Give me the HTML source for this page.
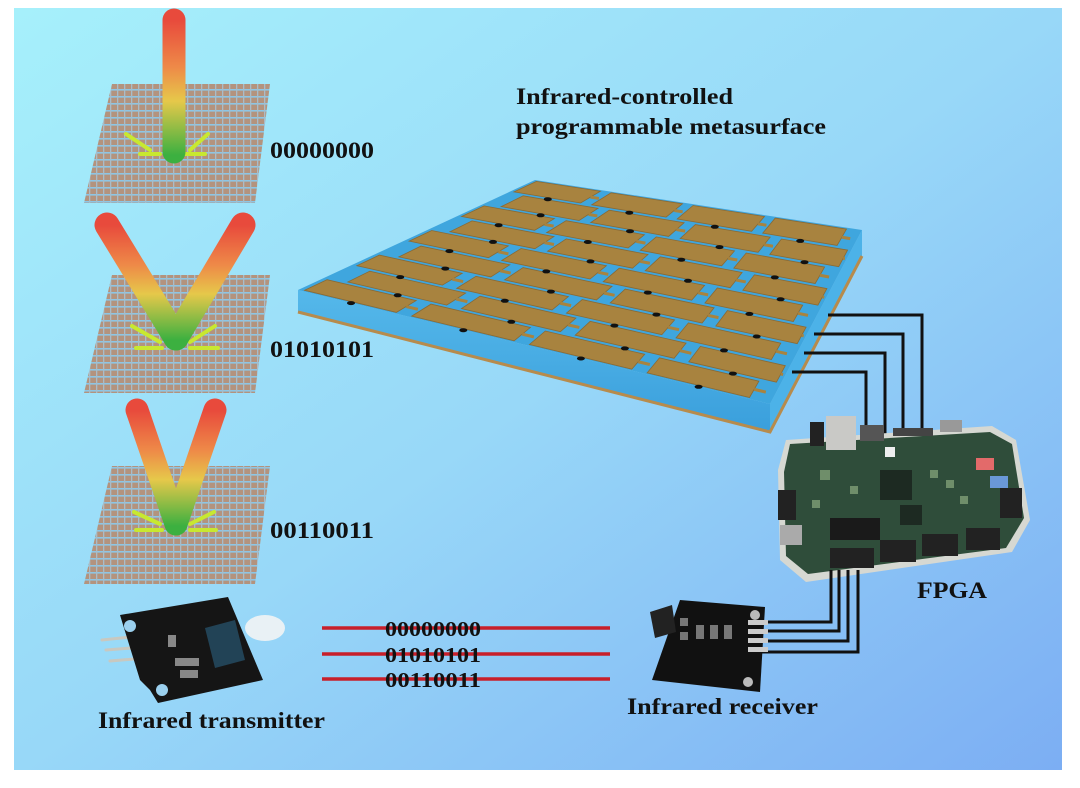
<!DOCTYPE html>
<html><head><meta charset="utf-8"><style>
html,body{margin:0;padding:0;background:#fff;}
svg{display:block}
text{font-family:"Liberation Serif",serif;font-weight:bold;fill:#111;}
</style></head><body>
<svg id="s" width="1080" height="788" viewBox="0 0 1080 788" xmlns="http://www.w3.org/2000/svg">
<defs>
<linearGradient id="bg" x1="0" y1="0" x2="1" y2="1">
<stop offset="0" stop-color="#a6f0fb"/><stop offset="0.5" stop-color="#98d8f8"/><stop offset="1" stop-color="#7caef3"/></linearGradient>
<pattern id="grid" width="7" height="7" patternUnits="userSpaceOnUse">
<rect width="7" height="7" fill="#b3937e"/><rect x="0" y="5" width="7" height="1.6" fill="#8cc6e6"/><rect x="5" y="0" width="1.3" height="7" fill="#a9bcc8"/></pattern>
<linearGradient id="beam1" gradientUnits="userSpaceOnUse" x1="0" y1="20" x2="0" y2="155">
<stop offset="0" stop-color="#e84a3c"/><stop offset="0.35" stop-color="#ee8a48"/><stop offset="0.6" stop-color="#e6c84a"/><stop offset="1" stop-color="#3cb040"/></linearGradient>
<linearGradient id="beam2" gradientUnits="userSpaceOnUse" x1="0" y1="225" x2="0" y2="340">
<stop offset="0" stop-color="#e84a3c"/><stop offset="0.35" stop-color="#ee8a48"/><stop offset="0.6" stop-color="#e6c84a"/><stop offset="1" stop-color="#3cb040"/></linearGradient>
<linearGradient id="beam3" gradientUnits="userSpaceOnUse" x1="0" y1="410" x2="0" y2="526">
<stop offset="0" stop-color="#e84a3c"/><stop offset="0.35" stop-color="#ee8a48"/><stop offset="0.6" stop-color="#e6c84a"/><stop offset="1" stop-color="#3cb040"/></linearGradient>
<linearGradient id="side" x1="0" y1="0" x2="0" y2="1"><stop offset="0" stop-color="#55b8ea"/><stop offset="1" stop-color="#3a9fdc"/></linearGradient>
</defs>
<rect x="14" y="8" width="1048" height="762" fill="url(#bg)"/>

<polygon points="112,84 270,84 255,203 84,203" fill="url(#grid)"/>
<polygon points="112,275 270,275 255,393 84,393" fill="url(#grid)"/>
<polygon points="112,466 270,466 255,584 84,584" fill="url(#grid)"/>

<g stroke-linecap="round" fill="none">
<g stroke="#c8e830" stroke-width="4"><line x1="150" y1="150" x2="126" y2="134"/><line x1="160" y1="154" x2="140" y2="154"/><line x1="190" y1="150" x2="208" y2="134"/><line x1="185" y1="154" x2="205" y2="154"/></g>
<line x1="174" y1="20" x2="174" y2="152" stroke="url(#beam1)" stroke-width="23"/>
<g stroke="#c8e830" stroke-width="4"><line x1="160" y1="342" x2="132" y2="326"/><line x1="162" y1="348" x2="136" y2="348"/><line x1="190" y1="342" x2="215" y2="326"/><line x1="190" y1="348" x2="218" y2="348"/></g>
<path d="M107,225 L176,338" stroke="url(#beam2)" stroke-width="25"/>
<path d="M243,225 L176,338" stroke="url(#beam2)" stroke-width="25"/>
<g stroke="#c8e830" stroke-width="4"><line x1="160" y1="524" x2="134" y2="512"/><line x1="162" y1="530" x2="136" y2="530"/><line x1="190" y1="524" x2="214" y2="512"/><line x1="190" y1="530" x2="216" y2="530"/></g>
<path d="M137,410 L176,524" stroke="url(#beam3)" stroke-width="23"/>
<path d="M215,410 L176,524" stroke="url(#beam3)" stroke-width="23"/>
</g>
<text x="270" y="158" font-size="23" textLength="104" lengthAdjust="spacingAndGlyphs">00000000</text>
<text x="270" y="357" font-size="23" textLength="104" lengthAdjust="spacingAndGlyphs">01010101</text>
<text x="270" y="538" font-size="23" textLength="104" lengthAdjust="spacingAndGlyphs">00110011</text>

<text x="516" y="104" font-size="23" textLength="217" lengthAdjust="spacingAndGlyphs">Infrared-controlled</text>
<text x="516" y="134" font-size="23" textLength="310" lengthAdjust="spacingAndGlyphs">programmable metasurface</text>

<polygon points="298,290 770,404 770,432 298,312" fill="url(#side)"/>
<polygon points="770,404 862,230 862,256 770,432" fill="#4cb2e8"/>
<polyline points="298,312 770,432 862,256" fill="none" stroke="#b78b4c" stroke-width="3"/>
<polygon points="298,290 535,180 862,230 770,404" fill="#3fa6de"/>
<g id="tiles"></g>

<g stroke="#111" stroke-width="3" fill="none">
<polyline points="828,315 922,315 922,432"/>
<polyline points="814,334 903,334 903,432"/>
<polyline points="804,353 885,353 885,434"/>
<polyline points="792,372 866,372 866,436"/>
</g>

<g>
<polygon points="786,440 992,426 1016,440 1030,520 1012,552 806,582 780,560 778,470" fill="#d6d8d2"/>
<polygon points="790,444 990,432 1012,444 1024,518 1006,548 808,574 786,556 784,472" fill="#2f4d3a"/>
<rect x="826" y="416" width="30" height="34" fill="#c9c9c6"/>
<rect x="810" y="422" width="14" height="24" fill="#222"/>
<rect x="860" y="425" width="24" height="16" fill="#555"/>
<rect x="893" y="428" width="40" height="8" fill="#444"/>
<rect x="940" y="420" width="22" height="12" fill="#999"/>
<rect x="885" y="447" width="10" height="10" fill="#eee"/>
<rect x="880" y="470" width="32" height="30" fill="#1d2a22"/>
<rect x="900" y="505" width="22" height="20" fill="#1d2a22"/>
<rect x="976" y="458" width="18" height="12" fill="#e36a6a"/>
<rect x="990" y="476" width="18" height="12" fill="#6a98d8"/>
<rect x="778" y="490" width="18" height="30" fill="#222"/>
<rect x="780" y="525" width="22" height="20" fill="#aaa"/>
<rect x="830" y="518" width="50" height="22" fill="#1a1a1a"/>
<rect x="830" y="548" width="44" height="20" fill="#222"/>
<rect x="880" y="540" width="36" height="22" fill="#222"/>
<rect x="922" y="534" width="36" height="22" fill="#222"/>
<rect x="966" y="528" width="34" height="22" fill="#222"/>
<rect x="1000" y="488" width="22" height="30" fill="#222"/>
<g fill="#6f8e6a"><rect x="930" y="470" width="8" height="8"/><rect x="946" y="480" width="8" height="8"/><rect x="960" y="496" width="8" height="8"/><rect x="820" y="470" width="10" height="10"/><rect x="850" y="486" width="8" height="8"/><rect x="812" y="500" width="8" height="8"/></g>
</g>
<text x="917" y="598" font-size="23" textLength="70" lengthAdjust="spacingAndGlyphs">FPGA</text>

<g stroke="#111" stroke-width="3" fill="none">
<polyline points="768,622 831,622 831,570"/>
<polyline points="766,631 839,631 839,570"/>
<polyline points="764,641 848,641 848,570"/>
<polyline points="760,652 858,652 858,570"/>
</g>

<polygon points="680,600 765,607 760,692 652,680" fill="#111"/>
<polygon points="650,612 672,605 676,632 655,638" fill="#222"/>
<g fill="#777"><rect x="696" y="625" width="8" height="14"/><rect x="710" y="625" width="8" height="14"/><rect x="724" y="625" width="8" height="14"/><rect x="680" y="618" width="8" height="8"/><rect x="680" y="632" width="8" height="8"/></g>
<circle cx="755" cy="615" r="5" fill="#bbb"/><circle cx="748" cy="682" r="5" fill="#bbb"/>
<g fill="#ccc"><rect x="748" y="620" width="20" height="5"/><rect x="748" y="629" width="20" height="5"/><rect x="748" y="638" width="20" height="5"/><rect x="748" y="647" width="20" height="5"/></g>
<text x="627" y="714" font-size="23" textLength="191" lengthAdjust="spacingAndGlyphs">Infrared receiver</text>

<g stroke="#c81f2a" stroke-width="3.5"><line x1="322" y1="628" x2="610" y2="628"/><line x1="322" y1="654" x2="610" y2="654"/><line x1="322" y1="679" x2="610" y2="679"/></g>
<text x="385" y="636" font-size="21" textLength="96" lengthAdjust="spacingAndGlyphs">00000000</text>
<text x="385" y="662" font-size="21" textLength="96" lengthAdjust="spacingAndGlyphs">01010101</text>
<text x="385" y="687" font-size="21" textLength="96" lengthAdjust="spacingAndGlyphs">00110011</text>

<g stroke="#c8c8c0" stroke-width="3" stroke-linecap="round"><line x1="102" y1="640" x2="140" y2="636"/><line x1="106" y1="650" x2="144" y2="647"/><line x1="110" y1="661" x2="146" y2="658"/></g>
<polygon points="120,615 228,597 263,680 158,703 150,690 140,680" fill="#151515"/>
<polygon points="205,628 235,620 245,660 215,668" fill="#3c9ad0" opacity="0.35"/>
<ellipse cx="265" cy="628" rx="20" ry="13" fill="#f2f4f4" opacity="0.9"/>
<circle cx="130" cy="626" r="6" fill="#9bd0ee"/><circle cx="162" cy="690" r="6" fill="#9bd0ee"/>
<g fill="#888"><rect x="168" y="635" width="8" height="12"/><rect x="175" y="658" width="24" height="8"/><rect x="180" y="670" width="18" height="8"/></g>
<text x="98" y="728" font-size="23" textLength="227" lengthAdjust="spacingAndGlyphs">Infrared transmitter</text>
</svg>
<script>
(function(){
var A=[298,290],D=[770,404],B=[535,180],C=[862,230];
function P(u,v){return [A[0]*(1-u)*(1-v)+D[0]*u*(1-v)+B[0]*(1-u)*v+C[0]*u*v, A[1]*(1-u)*(1-v)+D[1]*u*(1-v)+B[1]*(1-u)*v+C[1]*u*v];}
var g=document.getElementById('tiles'),ns="http://www.w3.org/2000/svg";
function el(n,a){var e=document.createElementNS(ns,n);for(var k in a)e.setAttribute(k,a[k]);g.appendChild(e);}
var nu=4,nv=9;
for(var j=0;j<nv;j++){for(var i=0;i<nu;i++){
 var u0=(i+0.03)/nu,u1=(i+0.9)/nu,v0=(j+0.07)/nv,v1=(j+0.93)/nv;
 var off=(j%2)?0.04:-0.02; u0=Math.max(0.01,u0+off);u1=Math.min(0.99,u1+off);
 var p=[P(u0,v0),P(u1,v0),P(u1,v1),P(u0,v1)];
 el('polygon',{points:p.map(function(q){return q[0].toFixed(1)+','+q[1].toFixed(1)}).join(' '),fill:'#a8833f',stroke:'#8a6a34','stroke-width':'0.8'});
 var c=P((u0+u1)/2,v0+0.02/nv);
 el('ellipse',{cx:c[0].toFixed(1),cy:(c[1]+2).toFixed(1),rx:4,ry:2,fill:'#111'});
 var m=P(u1,(v0+v1)/2),m2=P(Math.min(0.995,u1+0.1/nu),(v0+v1)/2);
 el('line',{x1:m[0],y1:m[1],x2:m2[0],y2:m2[1],stroke:'#a8833f','stroke-width':3});
}}
})();
</script>
</body></html>
